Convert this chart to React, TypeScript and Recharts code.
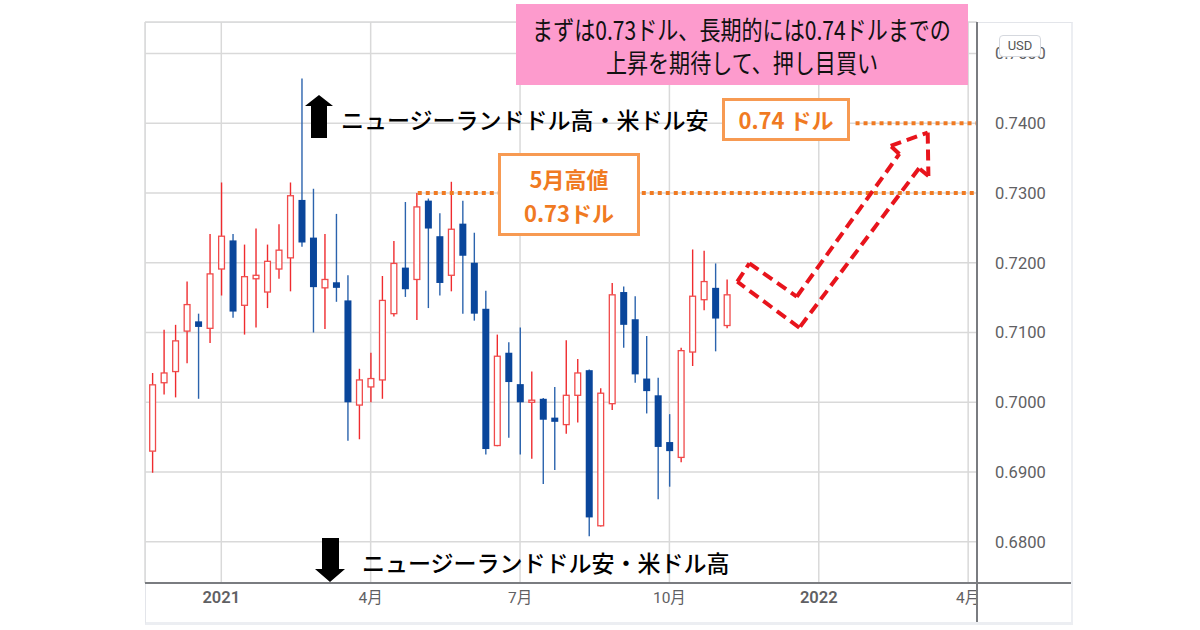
import React from 'react';
import { ComposedChart, Bar, XAxis, YAxis, CartesianGrid, ReferenceLine } from 'recharts';

// weekly NZD/USD candles, Dec 2020 - Nov 2021
const opens = [
    0.6930, 0.7028, 0.7044, 0.7102, 0.7116, 0.7106, 0.7191, 0.7232, 0.7139, 0.7177,
    0.7158, 0.7191, 0.7207, 0.7290, 0.7236, 0.7164, 0.7172, 0.7146, 0.6996, 0.7022,
    0.7032, 0.7127, 0.7193, 0.7176, 0.7289, 0.7238, 0.7182, 0.7256, 0.7200, 0.7134,
    0.6938, 0.7071, 0.7026, 0.7000, 0.7005, 0.6978, 0.6968, 0.7010, 0.7046, 0.6823,
    0.6998, 0.7158, 0.7119, 0.7034, 0.7010, 0.6943, 0.6921, 0.7072, 0.7147, 0.7164,
    0.7110,
];
const highs = [
    0.7042, 0.7104, 0.7111, 0.7173, 0.7127, 0.7241, 0.7315, 0.7241, 0.7226, 0.7249,
    0.7226, 0.7255, 0.7315, 0.7464, 0.7306, 0.7241, 0.7270, 0.7182, 0.7048, 0.7071,
    0.7181, 0.7231, 0.7287, 0.7300, 0.7292, 0.7271, 0.7316, 0.7289, 0.7243, 0.7160,
    0.7097, 0.7086, 0.7107, 0.7044, 0.7006, 0.7022, 0.7089, 0.7062, 0.7047, 0.7020,
    0.7171, 0.7166, 0.7152, 0.7095, 0.7035, 0.6983, 0.7078, 0.7219, 0.7217, 0.7199,
    0.7176,
];
const lows = [
    0.6899, 0.7011, 0.7007, 0.7056, 0.7005, 0.7085, 0.7153, 0.7121, 0.7097, 0.7107,
    0.7135, 0.7177, 0.7159, 0.7223, 0.7100, 0.7105, 0.7144, 0.6945, 0.6947, 0.7000,
    0.7005, 0.7123, 0.7151, 0.7118, 0.7135, 0.7153, 0.7159, 0.7127, 0.7117, 0.6925,
    0.6937, 0.6949, 0.6925, 0.6919, 0.6883, 0.6903, 0.6955, 0.6971, 0.6808, 0.6822,
    0.6989, 0.7078, 0.7028, 0.6984, 0.6861, 0.6879, 0.6914, 0.7052, 0.7132, 0.7073,
    0.7106,
];
const closes = [
    0.7025, 0.7042, 0.7088, 0.7140, 0.7108, 0.7184, 0.7238, 0.7130, 0.7180, 0.7182,
    0.7202, 0.7218, 0.7296, 0.7229, 0.7165, 0.7176, 0.7164, 0.7000, 0.7032, 0.7034,
    0.7146, 0.7199, 0.7162, 0.7280, 0.7249, 0.7171, 0.7248, 0.7210, 0.7127, 0.6933,
    0.7066, 0.7029, 0.7000, 0.7003, 0.6975, 0.6972, 0.7010, 0.7042, 0.6835, 0.7013,
    0.7154, 0.7111, 0.7040, 0.7016, 0.6936, 0.6930, 0.7074, 0.7152, 0.7173, 0.7120,
    0.7154,
];

// x axis: week index (0 = first candle); ticks fall on the first week of each quarter
const xTicks = [6, 19, 32, 45, 58, 71];
const xTickLabels = ['2021', '4月', '7月', '10月', '2022', '4月'];
const yTicks = [0.68, 0.69, 0.70, 0.71, 0.72, 0.73, 0.74, 0.75];

const candles = opens.map((o, i) => ({ i, open: o, high: highs[i], low: lows[i], close: closes[i] }));

// annotation: the dashed "check mark" arrow, in (week, price)
const checkArrow = [
    [51.96, 0.71992], [56.08, 0.71513], [65.01, 0.73559], [64.26, 0.73674], [67.48, 0.73865],
    [67.54, 0.73244], [66.73, 0.73354], [56.31, 0.71068], [50.91, 0.71728],
];

const X_MIN = -0.64;
const X_MAX = 71.77;
const UP = '#ef2b2e';
const DOWN = '#0a469b';
const DOWN_WICK = '#2b63ad';
const ORANGE = '#f07a22';

const Candle = (props: any) => {
    const { x, y, width, height, payload } = props;
    if (!payload) return null;
    const { open, close, high, low } = payload;
    const up = close >= open;
    const top = Math.min(y, y + height);
    const h = Math.abs(height);
    const py = (v: number) => top + ((high - v) / (high - low)) * h;
    const cx = x + width / 2;
    const bTop = py(Math.max(open, close));
    const bBot = py(Math.min(open, close));
    const bh = Math.max(bBot - bTop, 1.5);
    const bw = 7;
    if (up) {
        return (
            <g>
                <line x1={cx} x2={cx} y1={top} y2={bTop} stroke={UP} strokeWidth={1.4} />
                <line x1={cx} x2={cx} y1={bTop + bh} y2={top + h} stroke={UP} strokeWidth={1.4} />
                <rect x={cx - bw / 2 + 0.6} y={bTop} width={bw - 1.2} height={bh} fill="#fff" stroke="#f04a4a" strokeWidth={1.3} />
            </g>
        );
    }
    return (
        <g>
            <line x1={cx} x2={cx} y1={top} y2={top + h} stroke={DOWN_WICK} strokeWidth={1.4} />
            <rect x={cx - bw / 2} y={bTop} width={bw} height={bh} fill={DOWN} />
        </g>
    );
};

const DateTick = (props: any) => {
    const { x, y, payload } = props;
    const label = xTickLabels[xTicks.indexOf(payload.value)] ?? '';
    const isYear = /^\d{4}$/.test(label);
    return (
        <text x={x} y={y + 12} textAnchor="middle" fill="#5f6063" fontSize={isYear ? 16.5 : 15.5}
            fontWeight={isYear ? 600 : 400} fontFamily='Roboto, "Noto Sans CJK JP", sans-serif'>
            {label}
        </text>
    );
};

const jp = '"Noto Sans CJK JP", sans-serif';
const noteLine: React.CSSProperties = { transform: 'scaleX(0.81)', whiteSpace: 'nowrap', width: 'max-content' };

const App: React.FC = () => {
    return (
        <div style={{ position: 'absolute', left: 0, top: 0, width: 1200, height: 630, background: '#fff', overflow: 'hidden' }}>
            {/* chart frame */}
            <div style={{ position: 'absolute', left: 145, top: 22, width: 925, height: 599, border: '1px solid #e3e5ea', borderRight: '2px solid #eceef2', borderBottom: '3px solid #eceef2' }} />
            <ComposedChart
                width={1200}
                height={630}
                data={candles}
                margin={{ top: 22, left: 145, right: 143, bottom: 10 }}
                style={{ position: 'absolute', left: 0, top: 0 }}
            >
                <CartesianGrid stroke="#d9d9d9" strokeWidth={1.5} />
                <XAxis
                    dataKey="i"
                    type="number"
                    domain={[X_MIN, X_MAX]}
                    allowDataOverflow
                    ticks={xTicks}
                    axisLine={false}
                    tickLine={false}
                    height={37}
                    tick={<DateTick />}
                />
                <YAxis
                    orientation="right"
                    type="number"
                    domain={[0.6741, 0.7545]}
                    allowDataOverflow
                    ticks={yTicks}
                    tickFormatter={(v: number) => v.toFixed(4)}
                    axisLine={false}
                    tickLine={false}
                    tickSize={0}
                    tickMargin={18}
                    width={80}
                    tick={{ fill: '#5f6063', fontSize: 16.5, fontFamily: 'Roboto, sans-serif' }}
                />
                <Bar dataKey={(d: any) => [d.low, d.high]} shape={(p: any) => <Candle {...p} />} barSize={8} isAnimationActive={false} />
                <ReferenceLine segment={[{ x: 23.1, y: 0.73 }, { x: X_MAX, y: 0.73 }]} stroke={ORANGE} strokeWidth={4} strokeDasharray="4 4" />
                <ReferenceLine segment={[{ x: 61.2, y: 0.74 }, { x: X_MAX, y: 0.74 }]} stroke={ORANGE} strokeWidth={4} strokeDasharray="4 4" />
                {checkArrow.map((p, k) => {
                    const q = checkArrow[(k + 1) % checkArrow.length];
                    return (
                        <ReferenceLine
                            key={k}
                            segment={[{ x: p[0], y: p[1] }, { x: q[0], y: q[1] }]}
                            stroke="#e8141c"
                            strokeWidth={4}
                            strokeDasharray="11 6"
                        />
                    );
                })}
            </ComposedChart>

            {/* axis lines */}
            <div style={{ position: 'absolute', left: 145, top: 582, width: 926, height: 2, background: '#7a7c80' }} />
            <div style={{ position: 'absolute', left: 976, top: 22, width: 2, height: 600, background: '#7a7c80' }} />

            {/* USD badge */}
            <div style={{ position: 'absolute', left: 999, top: 35, width: 40, height: 20, border: '1px solid #d5d8de', borderRadius: 4, background: '#fff', color: '#555', fontSize: 13, fontFamily: 'Roboto, sans-serif', lineHeight: '20px', textAlign: 'center' }}>USD</div>

            {/* pink note */}
            <div style={{ position: 'absolute', left: 516, top: 4, width: 452, height: 81, background: '#fd9bcd', fontFamily: jp, color: '#111', fontSize: 26, lineHeight: '33px', paddingTop: 8, boxSizing: 'border-box', display: 'flex', flexDirection: 'column', alignItems: 'center' }}>
                <div style={noteLine}>まずは0.73ドル、長期的には0.74ドルまでの</div>
                <div style={noteLine}>上昇を期待して、押し目買い</div>
            </div>

            {/* orange labels */}
            <div style={{ position: 'absolute', left: 722, top: 98, width: 128, height: 43, border: '3px solid #f79a52', background: '#fff', boxSizing: 'border-box', color: ORANGE, fontFamily: jp, fontWeight: 700, fontSize: 22, lineHeight: '37px', textAlign: 'center' }}>0.74 ドル</div>
            <div style={{ position: 'absolute', left: 498, top: 153, width: 142, height: 83, border: '3px solid #f79a52', background: '#fff', boxSizing: 'border-box', color: ORANGE, fontFamily: jp, fontWeight: 700, fontSize: 22, lineHeight: '34px', textAlign: 'center', paddingTop: 5 }}>
                <div>5月高値</div>
                <div>0.73ドル</div>
            </div>

            {/* direction arrows and captions */}
            <svg width={1200} height={630} style={{ position: 'absolute', left: 0, top: 0, pointerEvents: 'none' }}>
                <polygon points="319,95 333,106 327,106 327,138 311,138 311,106 305,106" fill="#000" />
                <polygon points="322,538 339,538 339,569 345,569 330,582 315,569 322,569" fill="#000" />
            </svg>
            <div style={{ position: 'absolute', left: 341, top: 103, fontFamily: jp, fontSize: 23, fontWeight: 500, lineHeight: '32px', color: '#000', whiteSpace: 'nowrap' }}>ニュージーランドドル高・米ドル安</div>
            <div style={{ position: 'absolute', left: 362, top: 546, fontFamily: jp, fontSize: 23, fontWeight: 500, lineHeight: '32px', color: '#000', whiteSpace: 'nowrap' }}>ニュージーランドドル安・米ドル高</div>
        </div>
    );
};

export default App;
